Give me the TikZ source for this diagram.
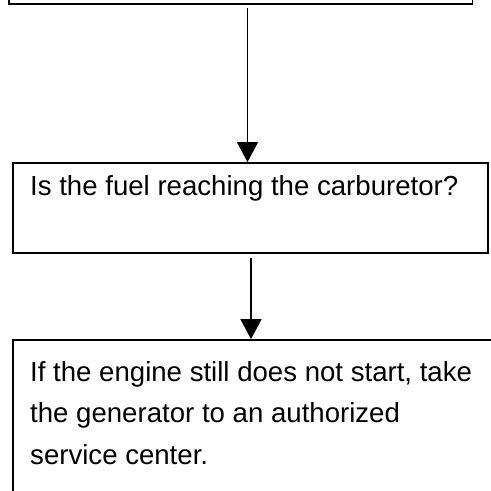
\documentclass[tikz,border=0pt]{standalone}
\usepackage{fontspec}
\setmainfont{Liberation Sans}
\usetikzlibrary{arrows.meta}
\begin{document}
\begin{tikzpicture}[x=1pt,y=-1pt,
  box/.style={draw=black, line width=1.8pt, inner sep=0pt, rectangle},
  txt/.style={anchor=base west, inner sep=0pt, font=\fontsize{27.6}{41.4}\selectfont},
  arr/.style={line width=1.4pt, -{Triangle[length=20pt,width=21pt]}}]
\useasboundingbox (0,0) rectangle (491,491);
\clip (0,0) rectangle (491,491);
\node[box, minimum width=463.5pt, minimum height=80pt] (top) at (240.75,-36) {};
\node[box, minimum width=475.3pt, minimum height=90pt] (mid) at (250.65,208) {};
\node[box, minimum width=507pt, minimum height=200pt] (bot) at (266.5,440) {};
\node[txt] (q) at (30,195) {Is the fuel reaching the carburetor?};
\node[txt] (l1) at (30,381) {If the engine still does not start, take};
\node[txt] (l2) at (30,422.5) {the generator to an authorized};
\node[txt] (l3) at (30,464) {service center.};
\coordinate (a1) at (247.5,8);
\coordinate (a2) at (251,258);
\draw[arr] (a1) -- (a1 |- mid.north);
\draw[arr] (a2) -- (a2 |- bot.north);
\end{tikzpicture}
\end{document}
